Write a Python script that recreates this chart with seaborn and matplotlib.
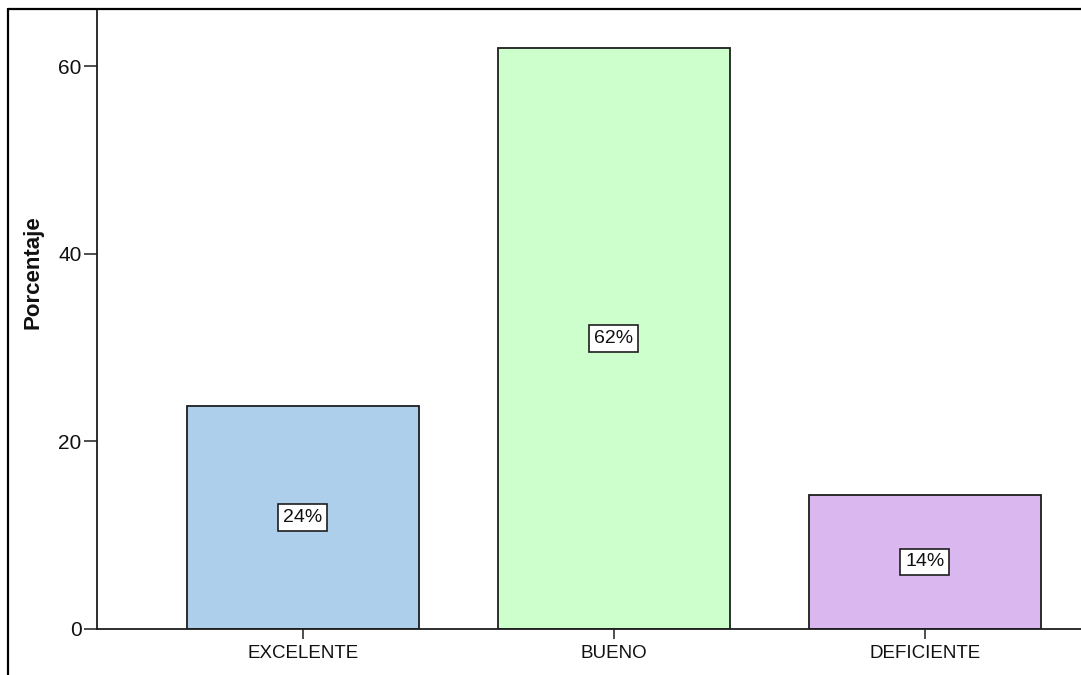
import matplotlib
matplotlib.use("Agg")
import matplotlib.pyplot as plt
from matplotlib.lines import Line2D
import seaborn as sns

# Survey results: share of responses per rating
categories = ["EXCELENTE", "BUENO", "DEFICIENTE"]
percentages = [23.8, 61.9, 14.3]
bar_colors = ["#AECFEB", "#CCFFCC", "#DAB8EF"]
y_ticks = [0, 20, 40, 60]

sns.set_theme(style="white")
plt.rcParams["font.family"] = ["Liberation Sans", "DejaVu Sans"]

W, H = 1081, 675
fig = plt.figure(figsize=(W / 100, H / 100), dpi=100)
fig.patch.set_facecolor("white")

left_px, bottom_px, top_px = 97, 629, 9
ax = fig.add_axes([left_px / W, (H - bottom_px) / H, 1 - left_px / W, (bottom_px - top_px) / H])

sns.barplot(x=categories, y=percentages, hue=categories, palette=bar_colors,
            legend=False, width=0.746, edgecolor="#1e1e1e", linewidth=1.3,
            saturation=1, ax=ax)

ax.set_xlim(-0.662, 2.502)
ax.set_ylim(0, 66.1)
ax.set_yticks(y_ticks)
ax.set_xlabel("")
ax.set_ylabel("Porcentaje", fontsize=16, fontweight="bold", color="#111111")
ax.yaxis.set_label_coords(-0.0545, 0.575)

for side in ("top", "right"):
    ax.spines[side].set_visible(False)
for side in ("left", "bottom"):
    ax.spines[side].set_color("#1e1e1e")
    ax.spines[side].set_linewidth(1.3)

ax.tick_params(axis="y", direction="out", length=9.5, width=1.1, color="#1e1e1e",
               labelsize=15, labelcolor="#111111", pad=1.5, left=True)
ax.tick_params(axis="x", direction="out", length=7.5, width=1.1, color="#1e1e1e",
               labelsize=13.5, labelcolor="#111111", pad=4, bottom=True)

# Value labels in white boxes at mid-height of each bar
for i, v in enumerate(percentages):
    ax.text(i, v / 2, f"{v:.0f}%", ha="center", va="center", fontsize=14,
            color="#111111",
            bbox=dict(boxstyle="square,pad=0.25", facecolor="white",
                      edgecolor="#1e1e1e", linewidth=1.2))

# Outer frame lines
fx = 8 / W
fy = 1 - 8.5 / H
fig.add_artist(Line2D([fx, fx], [0, fy], transform=fig.transFigure, color="black", lw=1.6))
fig.add_artist(Line2D([fx, 1], [fy, fy], transform=fig.transFigure, color="black", lw=1.6))

fig.savefig("out.png", dpi=100, facecolor="white")
